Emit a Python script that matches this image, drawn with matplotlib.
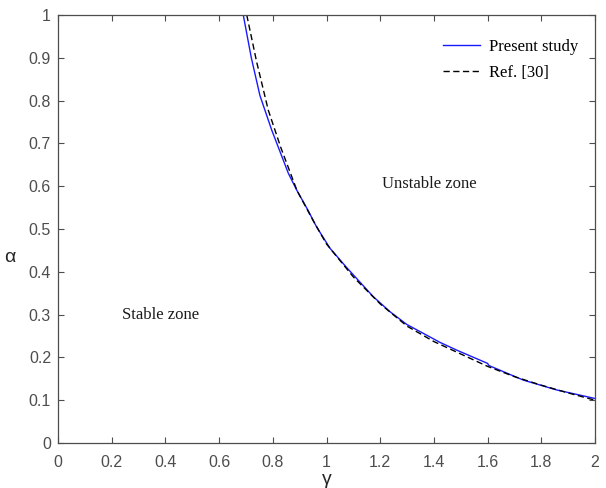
import numpy as np
import matplotlib
matplotlib.use("Agg")
import matplotlib.pyplot as plt
from matplotlib.ticker import FormatStrFormatter

# curve (gamma, alpha)
gammaPresent = [0.690, 0.720, 0.752, 0.796, 0.858, 0.889, 0.930, 0.963, 1.013, 1.075,
                1.174, 1.236, 1.299, 1.361, 1.423, 1.485, 1.600, 1.605, 1.733, 1.857, 2.0]
alphaPresent = [1.0, 0.900, 0.812, 0.731, 0.630, 0.591, 0.545, 0.505, 0.455, 0.410,
                0.342, 0.307, 0.277, 0.256, 0.235, 0.217, 0.186, 0.181, 0.147, 0.124, 0.104]

gammaRef = [0.703, 0.740, 0.783, 0.830, 0.890, 0.950, 1.000, 1.100, 1.200, 1.300,
            1.400, 1.500, 1.600, 1.700, 1.800, 1.900, 2.0]
alphaRef = [1.0, 0.890, 0.778, 0.690, 0.590, 0.520, 0.465, 0.388, 0.325, 0.273,
            0.237, 0.208, 0.179, 0.155, 0.135, 0.117, 0.100]

xTicks = np.arange(0, 2.01, 0.2)
yTicks = np.arange(0, 1.01, 0.1)

axCol = '#4d4d4d'
serif = 'Liberation Serif'
sans = 'Liberation Sans'

fig = plt.figure(figsize=(6.06, 4.88), dpi=100)
ax = fig.add_axes([58/606, 1-443/488, (595-58)/606, (443-15)/488])

ax.plot(gammaPresent, alphaPresent, color='#1a1aff', lw=1.0, label='Present study')
ax.plot(gammaRef, alphaRef, color='k', lw=1.0, ls=(0, (4.5, 2.5)), label='Ref. [30]')

ax.set_xlim(0, 2)
ax.set_ylim(0, 1)
ax.set_xticks(xTicks)
ax.set_yticks(yTicks)
ax.xaxis.set_major_formatter(FormatStrFormatter('%g'))
ax.yaxis.set_major_formatter(FormatStrFormatter('%g'))
ax.tick_params(direction='in', top=True, right=True, length=4, width=0.8,
               colors=axCol, labelsize=11.5, pad=5)
ax.tick_params(axis='x', pad=8.5)
for lab in ax.get_xticklabels() + ax.get_yticklabels():
    lab.set_fontfamily(sans)
for sp in ax.spines.values():
    sp.set_color(axCol)
    sp.set_linewidth(0.9)

ax.set_xlabel('γ', fontsize=14, color='#262626', family=sans, labelpad=1)
ax.set_ylabel('α', fontsize=14, color='#262626', family=sans, rotation=0,
              va='center', ha='center')
ax.yaxis.set_label_coords(-0.09, 0.433)

ax.text(0.237, 0.298, 'Stable zone', fontsize=12, family=serif, color='#1a1a1a', va='center')
ax.text(1.208, 0.605, 'Unstable zone', fontsize=12, family=serif, color='#1a1a1a', va='center')

leg = ax.legend(loc='upper right', bbox_to_anchor=(1.0, 0.983), frameon=False,
                prop={'family': serif, 'size': 12}, handlelength=2.2,
                handletextpad=0.55, labelspacing=0.62, borderaxespad=0.6)

fig.savefig('out.png', dpi=100)
